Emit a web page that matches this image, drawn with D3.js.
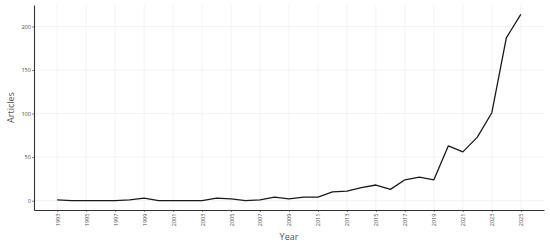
<!DOCTYPE html>
<html>
<head>
<meta charset="utf-8">
<script src="https://cdn.jsdelivr.net/npm/d3@7"></script>
<style>
  body { margin: 0; background: #fff; }
  text { font-family: "Open Sans", sans-serif; }
</style>
</head>
<body>
<div id="chart-area"></div>
<script>
// Data
var years = [1993, 1994, 1995, 1996, 1997, 1998, 1999, 2000, 2001, 2002, 2003,
    2004, 2005, 2006, 2007, 2008, 2009, 2010, 2011, 2012, 2013, 2014, 2015,
    2016, 2017, 2018, 2019, 2020, 2021, 2022, 2023, 2024, 2025];
var articles = [1, 0, 0, 0, 0, 1, 3, 0, 0, 0, 0,
    3, 2, 0, 1, 4, 2, 4, 4, 10, 11, 15, 18,
    13, 24, 27, 24, 63, 56, 73, 101, 187, 214];
var xTicks = [1993, 1995, 1997, 1999, 2001, 2003, 2005, 2007, 2009, 2011,
    2013, 2015, 2017, 2019, 2021, 2023, 2025];
var yTicks = [0, 50, 100, 150, 200];

var W = 550, H = 246;
var margin = { left: 34, right: 6, top: 5, bottom: 36 };
var width = W - margin.left - margin.right,
    height = H - margin.top - margin.bottom;

var svg = d3.select("#chart-area")
    .append("svg")
    .attr("width", W)
    .attr("height", H);

var g = svg.append("g")
    .attr("transform", "translate(" + margin.left + "," + margin.top + ")");

// Scales (ggplot style 5% expansion)
var xPad = (2025 - 1993) * 0.05;
var x = d3.scaleLinear()
    .domain([1993 - xPad, 2025 + xPad])
    .range([0, width]);
var yPad = 214 * 0.05;
var y = d3.scaleLinear()
    .domain([0 - yPad, 214 + yPad])
    .range([height, 0]);

// Grid
g.selectAll(".hgrid").data(yTicks).enter()
    .append("line")
    .attr("x1", 0).attr("x2", width)
    .attr("y1", function(d){ return y(d); })
    .attr("y2", function(d){ return y(d); })
    .attr("stroke", "#ebebeb")
    .attr("stroke-width", 0.6);
g.selectAll(".vgrid").data(xTicks).enter()
    .append("line")
    .attr("y1", 0).attr("y2", height)
    .attr("x1", function(d){ return x(d); })
    .attr("x2", function(d){ return x(d); })
    .attr("stroke", "#ebebeb")
    .attr("stroke-width", 0.6);

// Line
var line = d3.line()
    .x(function(d, i){ return x(years[i]); })
    .y(function(d){ return y(d); });
g.append("path")
    .datum(articles)
    .attr("d", line)
    .attr("fill", "none")
    .attr("stroke", "#1a1a1a")
    .attr("stroke-width", 1.3)
    .attr("stroke-linejoin", "round");

// X Axis
var xAxisCall = d3.axisBottom(x)
    .tickValues(xTicks)
    .tickFormat(d3.format("d"))
    .tickSize(2)
    .tickSizeOuter(0);
var xAxis = g.append("g")
    .attr("transform", "translate(0," + height + ")")
    .call(xAxisCall);
xAxis.select(".domain").attr("stroke", "#333").attr("stroke-width", 1.1);
xAxis.selectAll(".tick line").attr("stroke", "#333").attr("stroke-width", 0.6);
xAxis.selectAll(".tick text")
    .attr("font-size", "5.6px")
    .attr("fill", "#4d4d4d")
    .attr("transform", "rotate(-90)")
    .attr("text-anchor", "end")
    .attr("x", -3.5)
    .attr("y", 0)
    .attr("dy", "0.35em");

// Y Axis
var yAxisCall = d3.axisLeft(y)
    .tickValues(yTicks)
    .tickSize(2)
    .tickSizeOuter(0);
var yAxis = g.append("g").call(yAxisCall);
yAxis.select(".domain").attr("stroke", "#333").attr("stroke-width", 1.1);
yAxis.selectAll(".tick line").attr("stroke", "#333").attr("stroke-width", 0.6);
yAxis.selectAll(".tick text")
    .attr("font-size", "5.6px")
    .attr("fill", "#4d4d4d")
    .attr("x", -3);

// Labels
svg.append("text")
    .attr("x", margin.left + width / 2)
    .attr("y", 240)
    .attr("font-size", "9px")
    .attr("fill", "#555")
    .attr("text-anchor", "middle")
    .text("Year");

svg.append("text")
    .attr("transform", "translate(13.5," + (margin.top + height / 2) + ") rotate(-90)")
    .attr("font-size", "9px")
    .attr("fill", "#555")
    .attr("text-anchor", "middle")
    .text("Articles");
</script>
</body>
</html>
